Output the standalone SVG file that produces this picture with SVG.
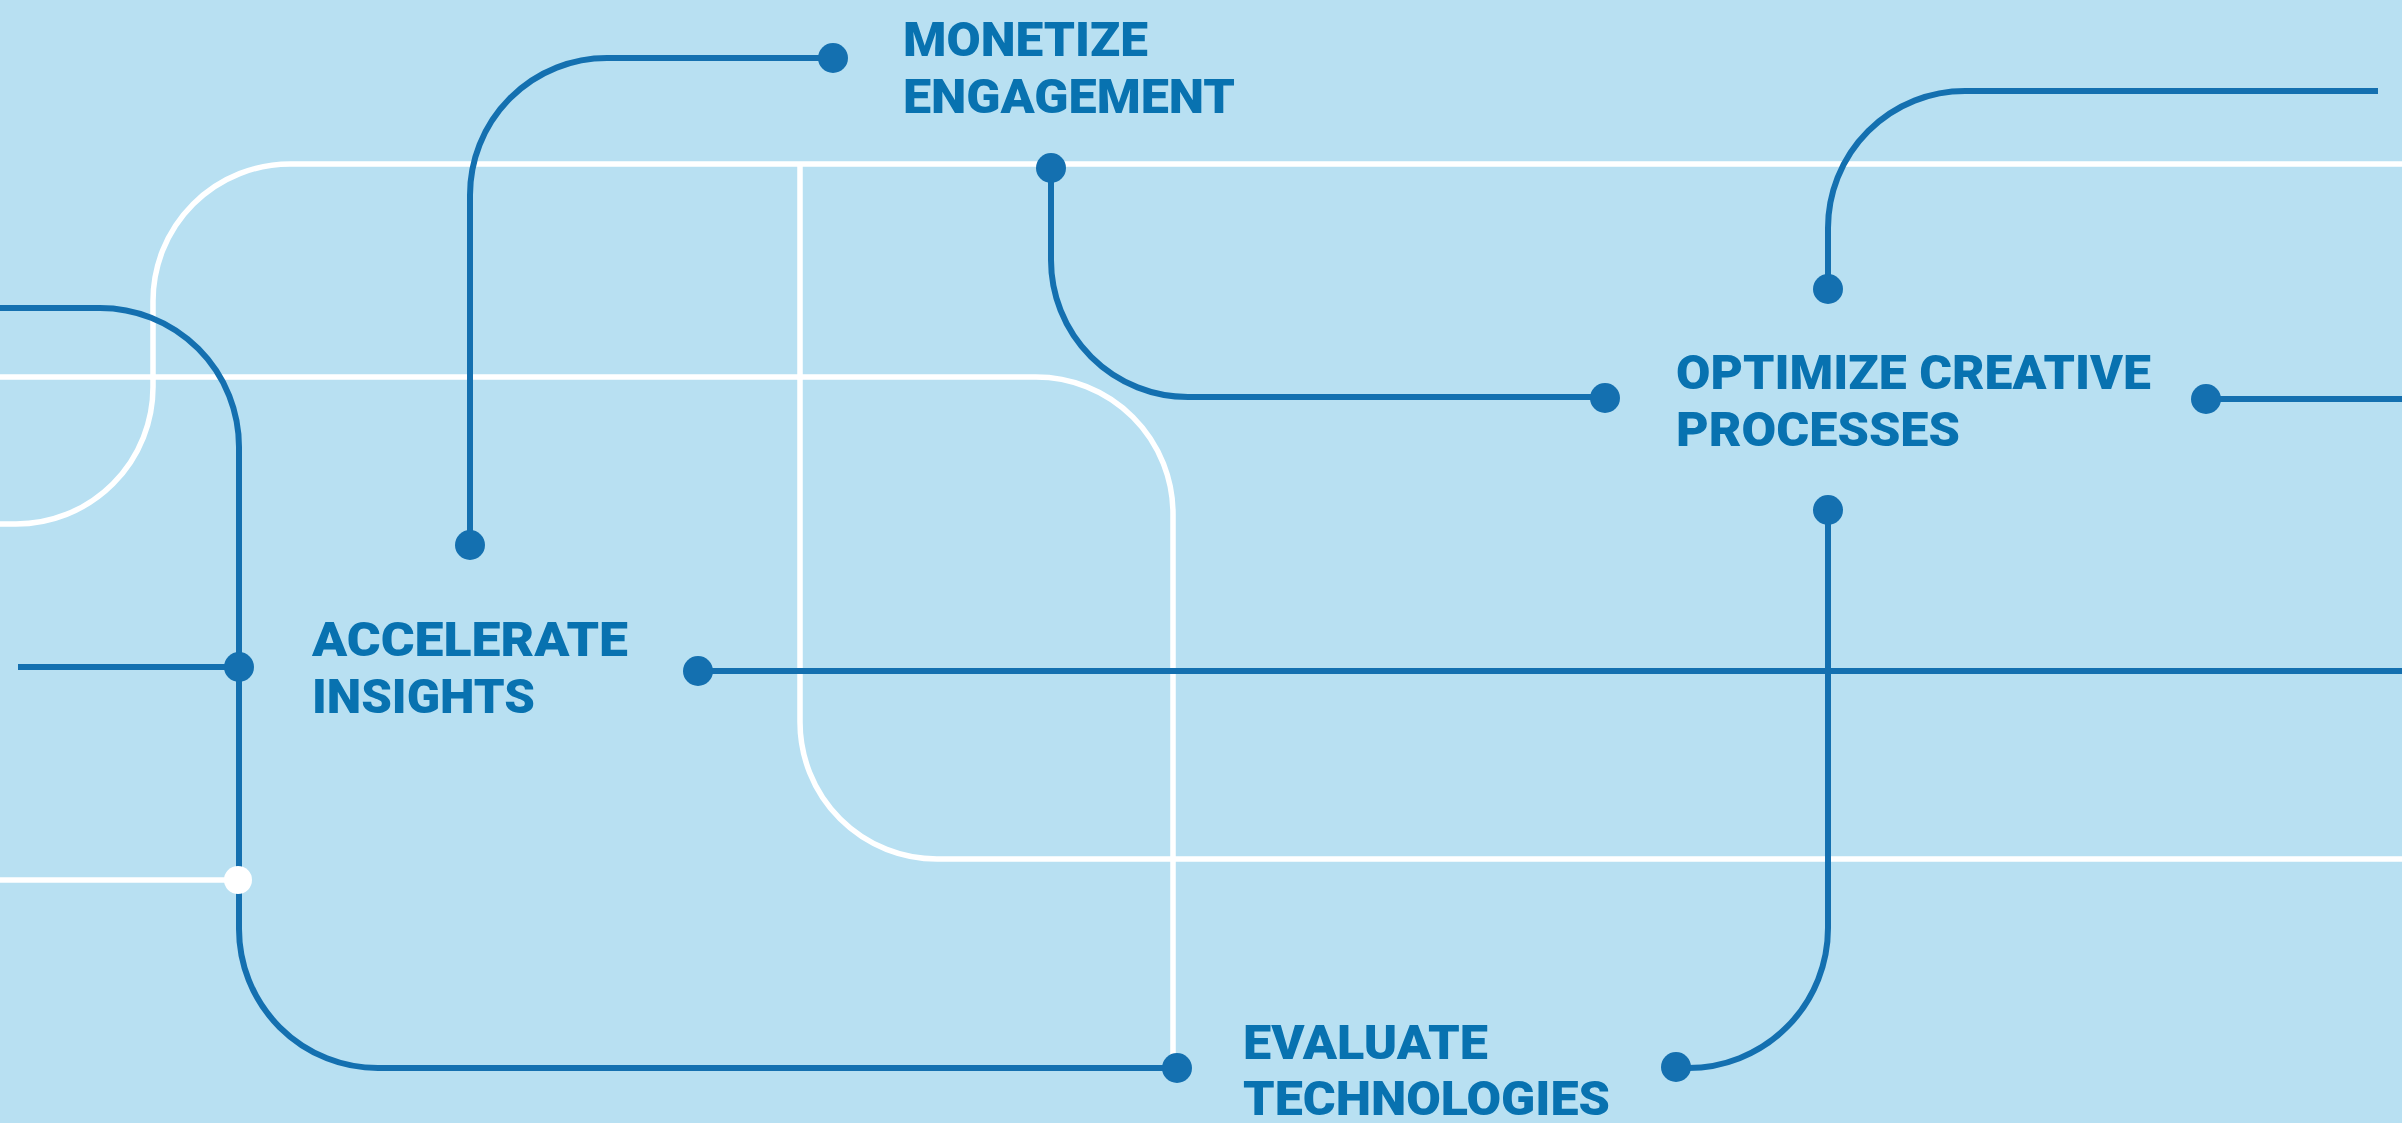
<svg xmlns="http://www.w3.org/2000/svg" width="2402" height="1123" viewBox="0 0 2402 1123">
  <style>
    .rail { fill: none; stroke: #ffffff; stroke-width: 5.5; }
    .wire { fill: none; stroke: #1470b0; stroke-width: 6; }
    .dot { fill: #1470b0; }
    .dot-w { fill: #ffffff; }
    .label { font-family: Roboto, "Liberation Sans", sans-serif; font-weight: 900; font-size: 49px; fill: #0872b0; }
  </style>
  <rect width="2402" height="1123" fill="#b8e0f2"/>

  <!-- white background rails -->
  <g id="rails">
    <path class="rail" d="M 0 524 H 16 A 137 137 0 0 0 153 387 V 301 A 137 137 0 0 1 290 164 H 2402"/>
    <path class="rail" d="M 0 377 H 1036 A 137 137 0 0 1 1173 514 V 1062"/>
    <path class="rail" d="M 800 164 V 722 A 137 137 0 0 0 937 859 H 2402"/>
    <path class="rail" d="M 0 880 H 238"/>
  </g>

  <!-- blue connectors -->
  <g id="connectors">
    <path class="wire" d="M 0 308 H 100 A 139 139 0 0 1 239 447 V 929 A 139 139 0 0 0 378 1068 H 1177"/>
    <path class="wire" d="M 18 667 H 239"/>
    <path class="wire" d="M 833 58 H 607 A 137 137 0 0 0 470 195 V 545"/>
    <path class="wire" d="M 1051 168 V 260 A 137 137 0 0 0 1188 397 H 1605"/>
    <path class="wire" d="M 2206 399 H 2402"/>
    <path class="wire" d="M 1828 289 V 228 A 137 137 0 0 1 1965 91 H 2378"/>
    <path class="wire" d="M 1828 510 V 928 A 140 140 0 0 1 1688 1068 H 1676"/>
    <path class="wire" d="M 698 671 H 2402"/>
  </g>

  <!-- junctions -->
  <g id="junctions">
    <circle class="dot" cx="239" cy="667" r="15"/>
    <circle class="dot-w" cx="238" cy="880" r="14"/>
  </g>

  <g id="node-monetize">
    <circle class="dot" cx="833" cy="58" r="15"/>
    <circle class="dot" cx="470" cy="545" r="15"/>
    <circle class="dot" cx="1051" cy="168" r="15"/>
    <text class="label" x="903" y="56" textLength="245" lengthAdjust="spacingAndGlyphs">MONETIZE</text>
    <text class="label" x="903" y="113" textLength="332" lengthAdjust="spacingAndGlyphs">ENGAGEMENT</text>
  </g>

  <g id="node-optimize">
    <circle class="dot" cx="1605" cy="398" r="15"/>
    <circle class="dot" cx="2206" cy="399" r="15"/>
    <circle class="dot" cx="1828" cy="289" r="15"/>
    <circle class="dot" cx="1828" cy="510" r="15"/>
    <text class="label" x="1676" y="389" textLength="475" lengthAdjust="spacingAndGlyphs">OPTIMIZE CREATIVE</text>
    <text class="label" x="1676" y="446" textLength="284" lengthAdjust="spacingAndGlyphs">PROCESSES</text>
  </g>

  <g id="node-accelerate">
    <circle class="dot" cx="698" cy="671" r="15"/>
    <text class="label" x="312" y="656" textLength="316" lengthAdjust="spacingAndGlyphs">ACCELERATE</text>
    <text class="label" x="312" y="713" textLength="223" lengthAdjust="spacingAndGlyphs">INSIGHTS</text>
  </g>

  <g id="node-evaluate">
    <circle class="dot" cx="1177" cy="1068" r="15"/>
    <circle class="dot" cx="1676" cy="1067" r="15"/>
    <text class="label" x="1243" y="1059" textLength="245" lengthAdjust="spacingAndGlyphs">EVALUATE</text>
    <text class="label" x="1243" y="1115" textLength="367" lengthAdjust="spacingAndGlyphs">TECHNOLOGIES</text>
  </g>
</svg>
